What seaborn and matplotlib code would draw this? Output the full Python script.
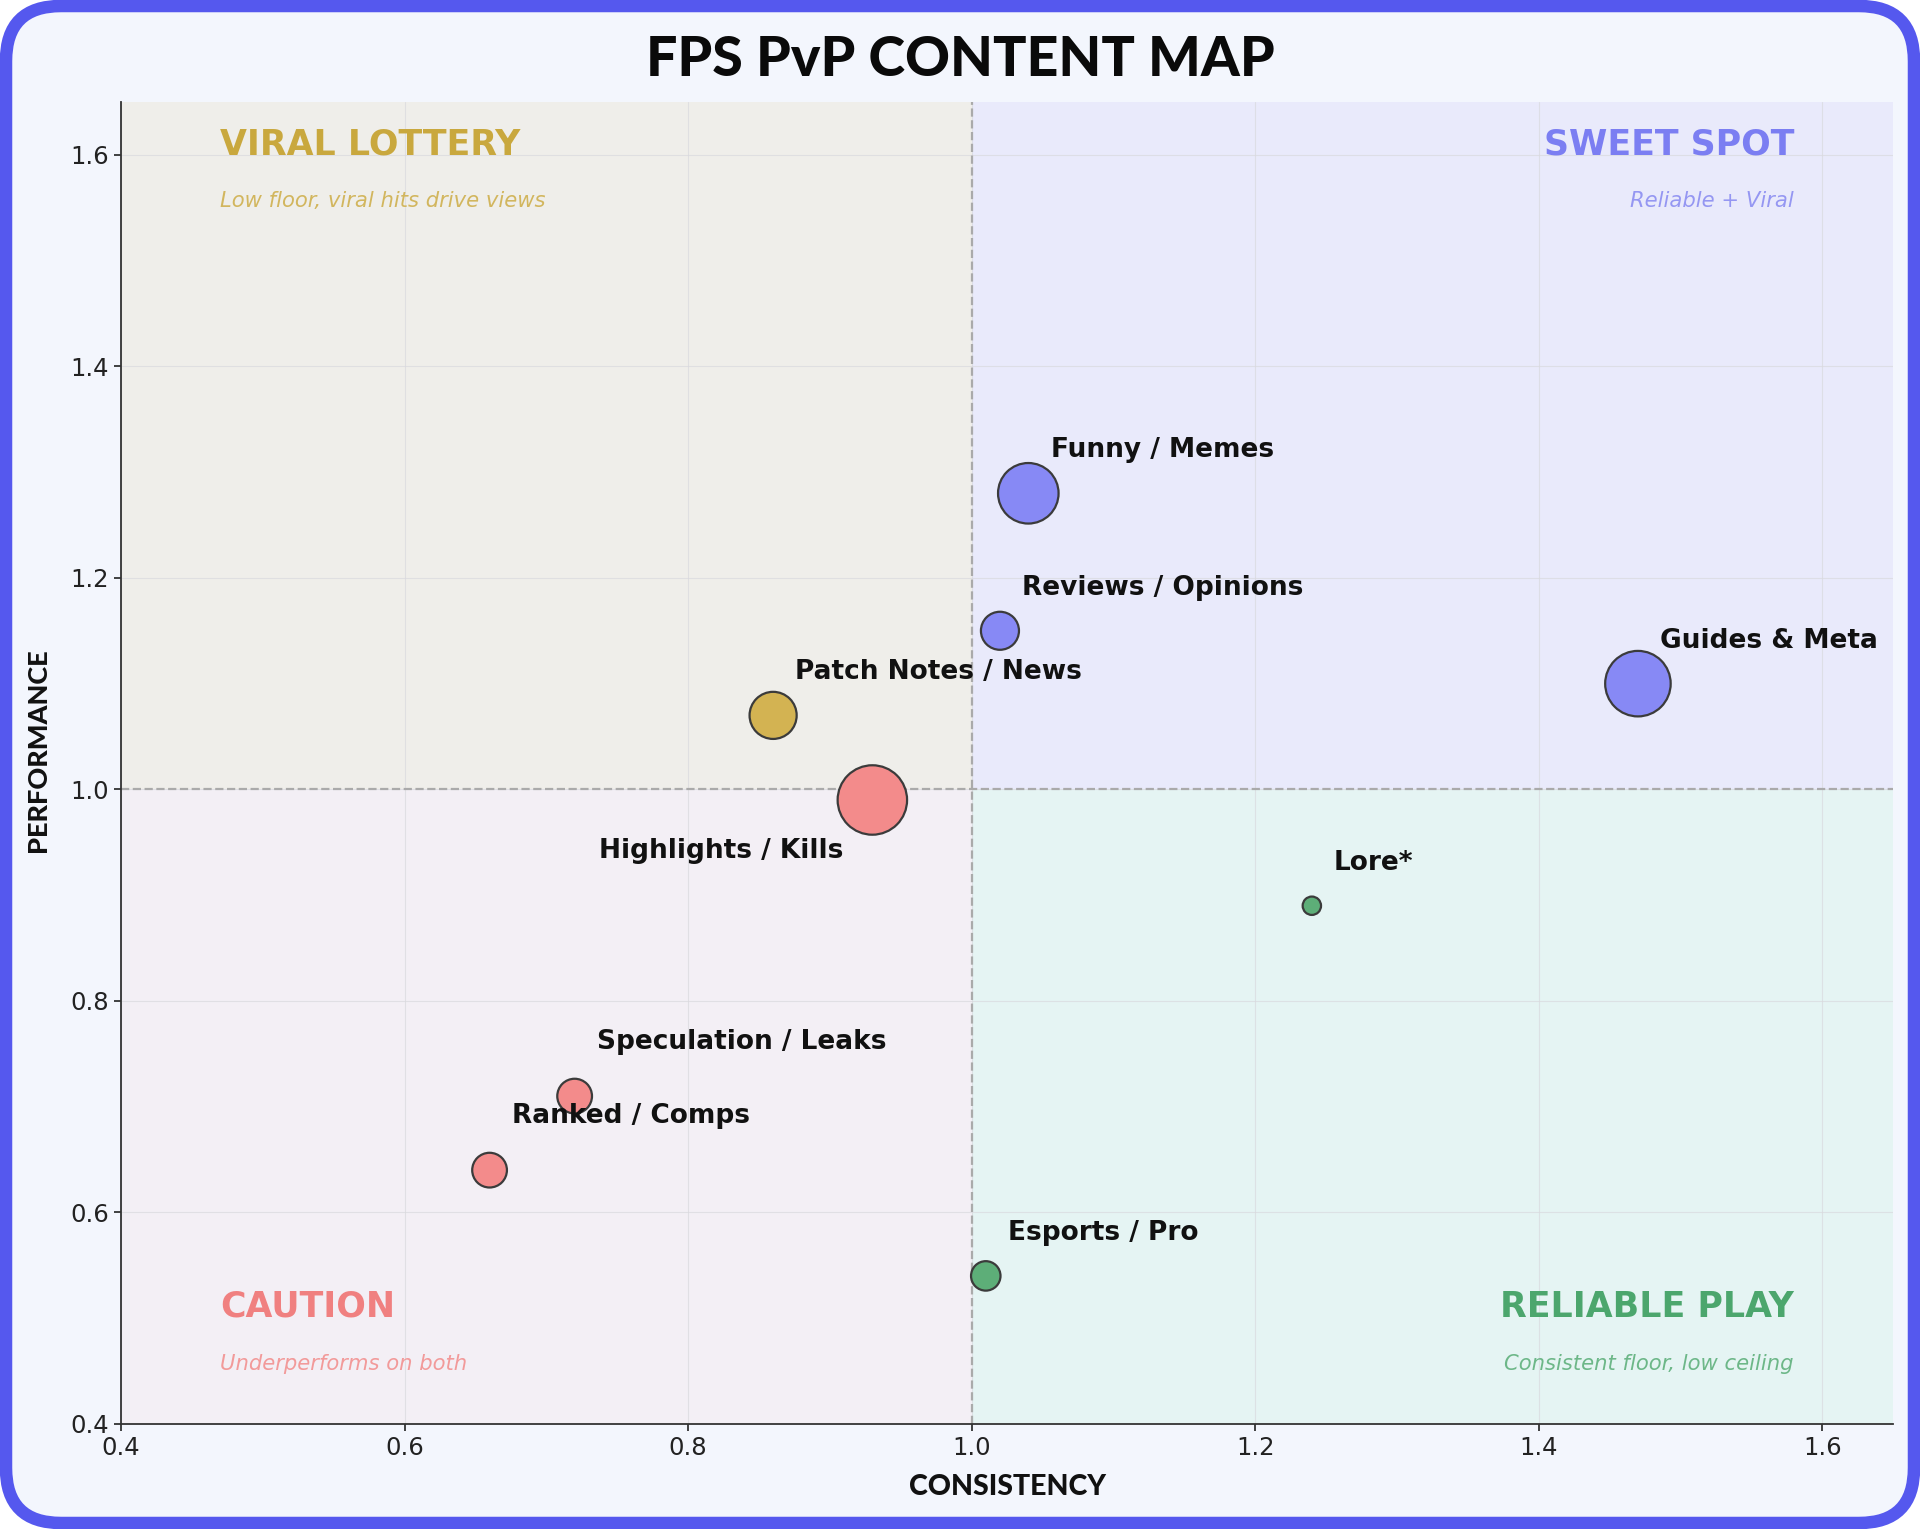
import matplotlib
matplotlib.use("Agg")
import matplotlib.pyplot as plt
from matplotlib.patches import FancyBboxPatch
import seaborn as sns
import pandas as pd

# ---- data ----
categories = ["Funny / Memes", "Reviews / Opinions", "Guides & Meta", "Patch Notes / News",
              "Highlights / Kills", "Lore*", "Speculation / Leaks", "Ranked / Comps", "Esports / Pro"]
consistency = [1.04, 1.02, 1.47, 0.86, 0.93, 1.24, 0.72, 0.66, 1.01]
performance = [1.28, 1.15, 1.10, 1.07, 0.99, 0.89, 0.71, 0.64, 0.54]
volume = [38, 15, 44.5, 23, 50, 3.5, 12.5, 12.5, 9]
x_ticks = [0.4, 0.6, 0.8, 1.0, 1.2, 1.4, 1.6]
y_ticks = [0.4, 0.6, 0.8, 1.0, 1.2, 1.4, 1.6]
threshold = 1.0

quad_names = ["SWEET SPOT", "VIRAL LOTTERY", "CAUTION", "RELIABLE PLAY"]
quad_subs = ["Reliable + Viral", "Low floor, viral hits drive views",
             "Underperforms on both", "Consistent floor, low ceiling"]

# ---- styles ----
point_colors = {"SWEET SPOT": "#8789F5", "VIRAL LOTTERY": "#D3B352",
                "CAUTION": "#F38B8B", "RELIABLE PLAY": "#5DAE78"}
text_colors = {"SWEET SPOT": "#7B7EF2", "VIRAL LOTTERY": "#C9A83E",
               "CAUTION": "#F08080", "RELIABLE PLAY": "#4CA66D"}
sub_colors = {"SWEET SPOT": "#9597F2", "VIRAL LOTTERY": "#D2B65E",
              "CAUTION": "#F29A9A", "RELIABLE PLAY": "#6DB788"}
bg_colors = {"SWEET SPOT": "#E9EAFB", "VIRAL LOTTERY": "#EFEEEA",
             "CAUTION": "#F3EFF5", "RELIABLE PLAY": "#E5F4F3"}
label_offsets = {"Speculation / Leaks": (16, 39), "Ranked / Comps": (16, 39),
                 "Highlights / Kills": (-21, -37)}
default_offset = (16, 31)

def quadrant(cx, py):
    if cx >= threshold and py >= threshold:
        return "SWEET SPOT"
    if cx < threshold and py >= threshold:
        return "VIRAL LOTTERY"
    if cx < threshold and py < threshold:
        return "CAUTION"
    return "RELIABLE PLAY"

df = pd.DataFrame({"category": categories, "consistency": consistency,
                   "performance": performance, "volume": volume})
df["quadrant"] = [quadrant(c, p) for c, p in zip(consistency, performance)]

sns.set_theme(style="white")
plt.rcParams["font.family"] = ["DejaVu Sans"]

fig = plt.figure(figsize=(19.2, 15.29), dpi=100, facecolor="white")
border = FancyBboxPatch((0.06, 0.06), 19.2 - 0.12, 15.29 - 0.12,
                        boxstyle="round,pad=0,rounding_size=0.55",
                        transform=fig.dpi_scale_trans, facecolor="#F3F6FD",
                        edgecolor="#5558EE", linewidth=9, zorder=-10)
fig.patches.append(border)

ax = fig.add_axes([0.063, 0.0687, 0.923, 0.8646])
ax.set_facecolor("#F3F6FD")
xlim = (0.4, 1.65)
ylim = (0.4, 1.65)
ax.set_xlim(*xlim)
ax.set_ylim(*ylim)

# quadrant backgrounds
ax.fill_between([threshold, xlim[1]], threshold, ylim[1], color=bg_colors["SWEET SPOT"], lw=0, zorder=0)
ax.fill_between([xlim[0], threshold], threshold, ylim[1], color=bg_colors["VIRAL LOTTERY"], lw=0, zorder=0)
ax.fill_between([xlim[0], threshold], ylim[0], threshold, color=bg_colors["CAUTION"], lw=0, zorder=0)
ax.fill_between([threshold, xlim[1]], ylim[0], threshold, color=bg_colors["RELIABLE PLAY"], lw=0, zorder=0)

ax.set_xticks(x_ticks)
ax.set_yticks(y_ticks)
ax.set_xticklabels([f"{t:.1f}" for t in x_ticks])
ax.set_yticklabels([f"{t:.1f}" for t in y_ticks])
ax.grid(True, color="#D9D9DE", linewidth=0.8, alpha=0.7, zorder=0.5)
ax.set_axisbelow(True)
for sp in ["top", "right"]:
    ax.spines[sp].set_visible(False)
for sp in ["left", "bottom"]:
    ax.spines[sp].set_color("#333333")
    ax.spines[sp].set_linewidth(1.3)
ax.tick_params(axis="both", labelsize=17.5, colors="#222222", length=5, width=1.2, direction="out",
               bottom=True, left=True)

ax.axvline(threshold, color="#AAAAAA", linestyle="--", linewidth=1.6, zorder=1)
ax.axhline(threshold, color="#AAAAAA", linestyle="--", linewidth=1.6, zorder=1)

vmax = max(volume)
sns.scatterplot(data=df, x="consistency", y="performance", hue="quadrant", palette=point_colors,
                size="volume", sizes=(0, 50 * vmax), size_norm=(0, vmax), legend=False,
                edgecolor="#3b3b3b", linewidth=1.6, alpha=1.0, ax=ax, zorder=3)

for _, r in df.iterrows():
    off = label_offsets.get(r["category"], default_offset)
    ha = "right" if off[0] < 0 else "left"
    ax.annotate(r["category"], (r["consistency"], r["performance"]), xytext=off,
                textcoords="offset points", ha=ha, va="center", fontsize=19,
                fontweight="bold", color="#111111", zorder=4)

# quadrant labels
qx_left, qx_right = 0.47, 1.58
qfs, sfs = 25, 15.2
ax.text(qx_left, 1.61, "VIRAL LOTTERY", color=text_colors["VIRAL LOTTERY"], fontsize=qfs,
        fontweight="bold", ha="left", va="center")
ax.text(qx_left, 1.556, quad_subs[1], color=sub_colors["VIRAL LOTTERY"], fontsize=sfs,
        style="italic", ha="left", va="center")
ax.text(qx_right, 1.61, "SWEET SPOT", color=text_colors["SWEET SPOT"], fontsize=qfs,
        fontweight="bold", ha="right", va="center")
ax.text(qx_right, 1.556, quad_subs[0], color=sub_colors["SWEET SPOT"], fontsize=sfs,
        style="italic", ha="right", va="center")
ax.text(qx_left, 0.511, "CAUTION", color=text_colors["CAUTION"], fontsize=qfs,
        fontweight="bold", ha="left", va="center")
ax.text(qx_left, 0.457, quad_subs[2], color=sub_colors["CAUTION"], fontsize=sfs,
        style="italic", ha="left", va="center")
ax.text(qx_right, 0.511, "RELIABLE PLAY", color=text_colors["RELIABLE PLAY"], fontsize=qfs,
        fontweight="bold", ha="right", va="center")
ax.text(qx_right, 0.457, quad_subs[3], color=sub_colors["RELIABLE PLAY"], fontsize=sfs,
        style="italic", ha="right", va="center")

fam = ["Lato", "Open Sans", "DejaVu Sans"]
ax.set_xlabel("CONSISTENCY", fontdict=dict(family=fam, weight="black", size=20.5, color="#111111"),
              labelpad=10)
ax.set_ylabel("PERFORMANCE", fontdict=dict(family=fam, weight="black", size=19.5, color="#111111"))
ax.yaxis.set_label_coords(-0.040, 0.51)

fig.text(0.5, 0.961, "FPS PvP CONTENT MAP", ha="center", va="center",
         family=fam, fontweight="black", fontsize=40, color="#0a0a0a")

fig.savefig("out.png", dpi=100, facecolor="white")
